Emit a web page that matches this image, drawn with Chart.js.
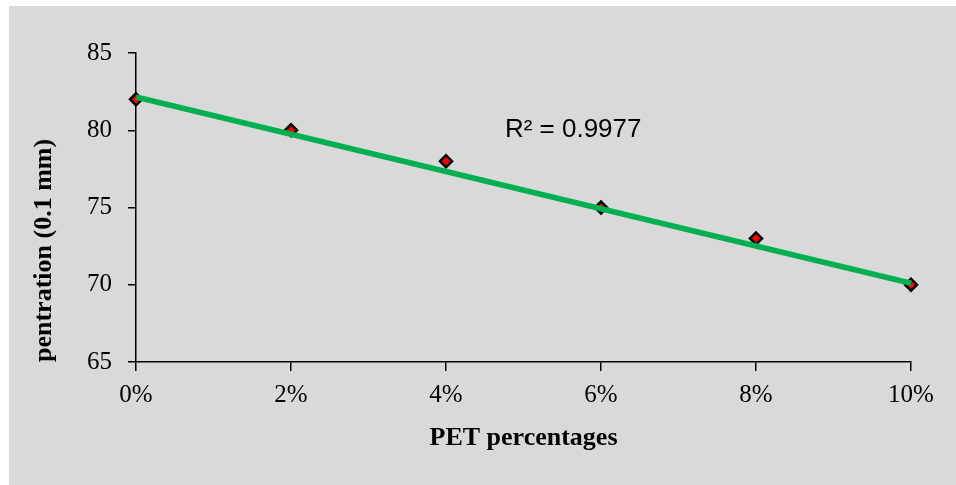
<!DOCTYPE html>
<html>
<head>
<meta charset="utf-8">
<script src="https://cdn.jsdelivr.net/npm/chart.js@4"></script>
<style>
  html, body { margin: 0; padding: 0; background: #ffffff; }
  #frame { position: absolute; left: 9px; top: 6px; width: 947px; height: 479px; background: #d9d9d9; }
  canvas { display: block; }
</style>
</head>
<body>
<div id="frame"><canvas id="c" width="947" height="479"></canvas></div>
<script>
const categories = ['0%', '2%', '4%', '6%', '8%', '10%'];
const penetration = [82, 80, 78, 75, 73, 70];
const trendEnds = [82.15, 70.1];
const yTicks = [65, 70, 75, 80, 85];
const r2Label = 'R\u00b2 = 0.9977';
const xTitle = 'PET percentages';
const yTitle = 'pentration (0.1 mm)';

const serif = "'Liberation Serif', 'Times New Roman', serif";

const r2Plugin = {
  id: 'r2',
  afterDatasetsDraw(chart) {
    const ctx = chart.ctx;
    const xs = chart.scales.x, ys = chart.scales.y;
    const x = xs.getPixelForValue(2.38);
    const y = ys.getPixelForValue(80);
    ctx.save();
    ctx.font = "26px 'Liberation Sans', Arial, sans-serif";
    ctx.fillStyle = '#000';
    ctx.textAlign = 'left';
    ctx.textBaseline = 'middle';
    ctx.fillText(r2Label, x, y);
    ctx.restore();
  }
};

new Chart(document.getElementById('c'), {
  type: 'line',
  data: {
    labels: categories,
    datasets: [
      {
        label: 'trend',
        data: [{x: categories[0], y: trendEnds[0]}, {x: categories[categories.length - 1], y: trendEnds[1]}],
        borderColor: '#00b050',
        borderWidth: 5.5,
        pointRadius: 0,
        fill: false,
        tension: 0
      },
      {
        label: 'penetration',
        data: penetration,
        showLine: false,
        pointStyle: 'rectRot',
        pointRadius: 6,
        pointBackgroundColor: '#ff0000',
        pointBorderColor: '#000000',
        pointBorderWidth: 2.5
      }
    ]
  },
  options: {
    responsive: false,
    animation: false,
    devicePixelRatio: 1,
    layout: { padding: { top: 47, right: 45, left: 0, bottom: 0 } },
    plugins: { legend: { display: false }, tooltip: { enabled: false } },
    scales: {
      x: {
        type: 'category',
        offset: false,
        afterFit(s) { s.height = 123; },
        border: { display: true, color: '#000', width: 1.5 },
        grid: { display: true, drawOnChartArea: false, drawTicks: true, tickLength: 9, color: '#000', lineWidth: 1.5 },
        ticks: { color: '#000', font: { family: serif, size: 25 }, padding: 9, maxRotation: 0 },
        title: { display: true, text: xTitle, color: '#000', font: { family: serif, size: 26, weight: 'bold' }, padding: { top: 0, bottom: 31 } }
      },
      y: {
        min: 65,
        max: 85,
        afterFit(s) { s.width = 127; },
        afterBuildTicks(s) { s.ticks = yTicks.map(v => ({ value: v })); },
        border: { display: true, color: '#000', width: 1.5 },
        grid: { display: true, drawOnChartArea: false, drawTicks: true, tickLength: 8, color: '#000', lineWidth: 1.5 },
        ticks: { color: '#000', font: { family: serif, size: 25 }, padding: 16 },
        title: { display: true, text: yTitle, align: 'start', color: '#000', font: { family: serif, size: 26, weight: 'bold' }, padding: { top: 20, bottom: 0 } }
      }
    }
  },
  plugins: [r2Plugin]
});
</script>
</body>
</html>
